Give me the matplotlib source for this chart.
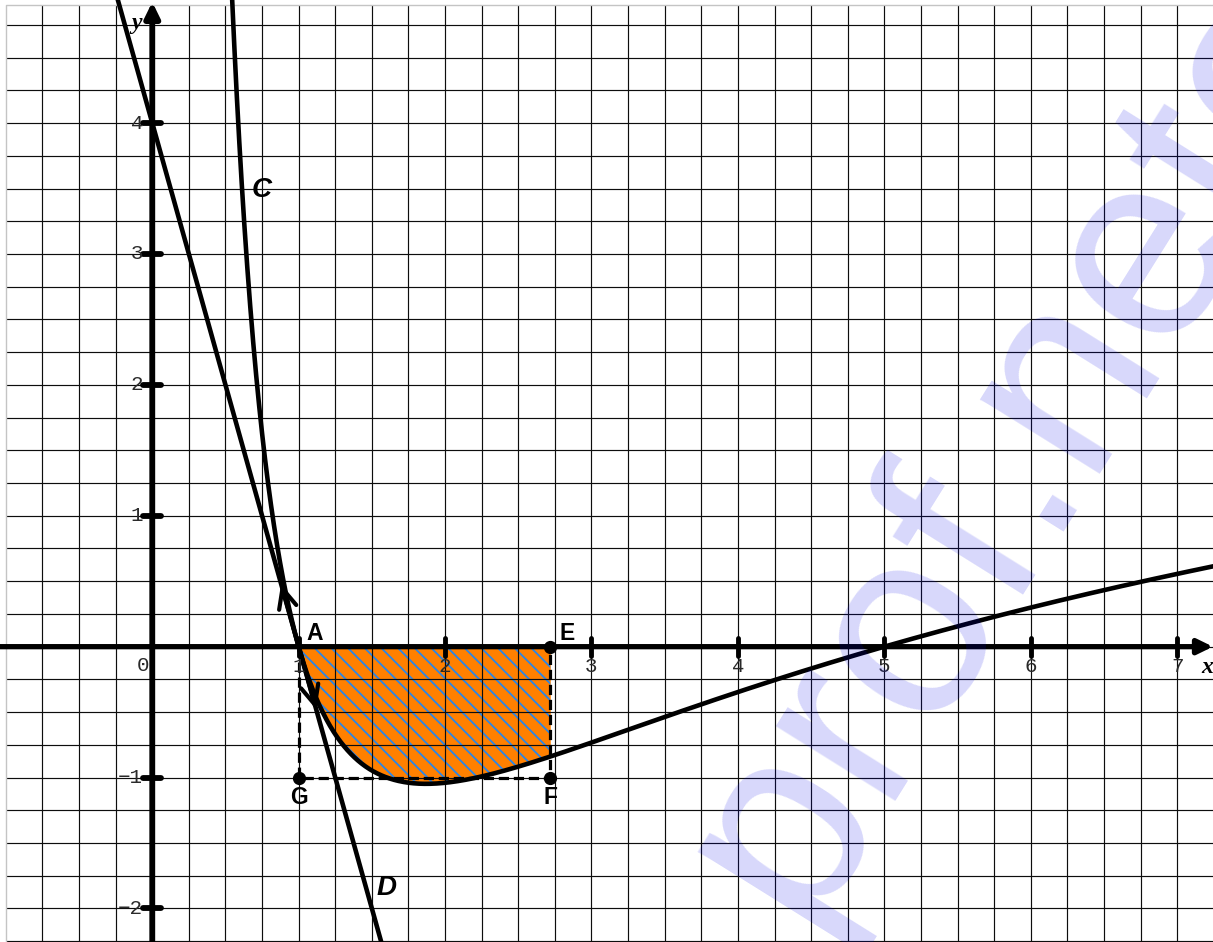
import numpy as np
import matplotlib
matplotlib.use("Agg")
import matplotlib.pyplot as plt
from matplotlib.markers import MarkerStyle

# ---- data -------------------------------------------------------------
# Curve C : f(x) = (x - root) * ln(x) / x
root = 5.0
# Tangent D to C at A : y = slope * x + intercept
tangent_slope = -4.0
tangent_intercept = 4.0

point_names = ["A", "E", "F", "G"]
point_x = [1.0, np.e, np.e, 1.0]
point_y = [0.0, 0.0, -1.0, -1.0]

area_start = 1.0
area_end = np.e

x_ticks = [1, 2, 3, 4, 5, 6, 7]
x_tick_labels = ["1", "2", "3", "4", "5", "6", "7"]
y_ticks = [-2, -1, 1, 2, 3, 4]
y_tick_labels = ["\u22122", "\u22121", "1", "2", "3", "4"]

# ---- window -----------------------------------------------------------
X_MIN, X_MAX = -1.040, 7.245
Y_MIN, Y_MAX = -2.256, 4.940
GRID_X0, GRID_X1 = -1.0, 7.25
GRID_Y0, GRID_Y1 = -2.25, 4.9
GRID_STEP = 0.25


def f(x):
    return (x - root) * np.log(x) / x


def tangent(x):
    return tangent_slope * x + tangent_intercept


fig = plt.figure(figsize=(12.13, 9.42), dpi=100)
ax = fig.add_axes([0, 0, 1, 1])
ax.set_xlim(X_MIN, X_MAX)
ax.set_ylim(Y_MIN, Y_MAX)
ax.axis("off")

# ---- grid (graph paper) -----------------------------------------------
gx = np.arange(GRID_X0 + GRID_STEP, GRID_X1 + 1e-9, GRID_STEP)
gy = np.arange(GRID_Y0, GRID_Y1 - 1e-9, GRID_STEP)
ax.vlines(gx, GRID_Y0, GRID_Y1, colors="#0d0d0d", lw=0.85, zorder=2)
ax.hlines(gy, GRID_X0, GRID_X1, colors="#0d0d0d", lw=0.85, zorder=2)
ax.plot([GRID_X0, GRID_X0, GRID_X1], [GRID_Y0, GRID_Y1, GRID_Y1],
        color="#c4c4c4", lw=1.0, zorder=2)

# ---- shaded area between C and the x-axis ------------------------------
xa = np.linspace(area_start, area_end, 400)
ya = f(xa)
ax.fill_between(xa, ya, 0, color="#ff8000", lw=0, zorder=1)
plt.rcParams["hatch.linewidth"] = 1.3
plt.rcParams["hatch.color"] = "#2a86e8"
ax.fill_between(xa, ya, 0, facecolor="none", edgecolor="#2a86e8",
                hatch="\\\\", lw=0, zorder=1.2)

# ---- dashed frame G-F-E and vertical through A -------------------------
ax.plot([point_x[0], point_x[3], point_x[2], point_x[1]],
        [point_y[0], point_y[3], point_y[2], point_y[1]],
        color="black", lw=2.3, ls=(0, (3.2, 1.5)), zorder=3)

# ---- axes with arrows --------------------------------------------------
ax.annotate("", xy=(X_MAX, 0), xytext=(X_MIN, 0),
            arrowprops=dict(arrowstyle="-|>,head_length=0.45,head_width=0.22",
                            lw=3.8, color="black", mutation_scale=20,
                            shrinkA=0, shrinkB=0),
            zorder=4, annotation_clip=False)
ax.annotate("", xy=(0, Y_MAX - 0.015), xytext=(0, Y_MIN),
            arrowprops=dict(arrowstyle="-|>,head_length=0.45,head_width=0.22",
                            lw=4.2, color="black", mutation_scale=20,
                            shrinkA=0, shrinkB=0),
            zorder=4, annotation_clip=False)

# tick marks
ax.plot(x_ticks, [0] * len(x_ticks), ls="none",
        marker=MarkerStyle("|", capstyle="round"), ms=13, mew=3.5,
        color="black", zorder=5)
ax.plot([0] * len(y_ticks), y_ticks, ls="none",
        marker=MarkerStyle("_", capstyle="round"), ms=13.5, mew=4.2,
        color="black", zorder=5)

tick_font = dict(family="Liberation Mono", fontsize=15, color="#2a2a2a")
for xv, lab in zip(x_ticks, x_tick_labels):
    ax.annotate(lab, (xv, 0), xytext=(0, -14.5), textcoords="offset points",
                ha="center", va="center", zorder=6, **tick_font)
for yv, lab in zip(y_ticks, y_tick_labels):
    ax.annotate(lab, (0, yv), xytext=(-6.5, 0), textcoords="offset points",
                ha="right", va="center", zorder=6, **tick_font)
ax.annotate("0", (0, 0), xytext=(-6.7, -13.2), textcoords="offset points",
            ha="center", va="center", zorder=6, **tick_font)

ax.text(-0.11, 4.76, "y", family="Liberation Serif", style="italic",
        weight="bold", fontsize=17, ha="center", va="center", zorder=6)
ax.text(7.205, -0.16, "x", family="Liberation Serif", style="italic",
        weight="bold", fontsize=17, ha="center", va="center", zorder=6)

# ---- curve C and tangent D --------------------------------------------
xc = np.linspace(0.52, X_MAX + 0.05, 2000)
ax.plot(xc, f(xc), color="black", lw=3.3, zorder=4,
        solid_capstyle="round")
xd = np.linspace(X_MIN, X_MAX, 50)
ax.plot(xd, tangent(xd), color="black", lw=3.3, zorder=4)

# tangent vector arrows at A
half = 0.12
for sgn in (-1, 1):
    xt = point_x[0] + sgn * half
    ax.annotate("", xy=(xt, tangent(xt)), xytext=(point_x[0], point_y[0]),
                arrowprops=dict(arrowstyle="->,head_length=0.7,head_width=0.32",
                                lw=3.0, color="black", mutation_scale=20,
                                shrinkA=0, shrinkB=0),
                zorder=5)

# ---- points and labels -------------------------------------------------
ax.plot(point_x[1:], point_y[1:], "o", ms=8.5, color="black", zorder=6)

label_offsets = {"A": (11.5, 9.4), "E": (12.2, 9.4), "F": (0.5, -14.5),
                 "G": (0, -14.5)}
for name, px, py in zip(point_names, point_x, point_y):
    ax.annotate(name, (px, py), xytext=label_offsets[name],
                textcoords="offset points", ha="center", va="center",
                family="Liberation Sans", weight="bold", fontsize=16.5,
                zorder=6)

ax.text(0.749, 3.49, "C", family="Liberation Sans", weight="bold",
        style="italic", fontsize=20, ha="center", va="center", zorder=6)
ax.text(1.602, -1.844, "D", family="Liberation Sans", weight="bold",
        style="italic", fontsize=20, ha="center", va="center", zorder=6)

# ---- site stamp -------------------------------------------------------
fig.text(800 / 1213, 1 - 926 / 942, "prof.neto", rotation=58,
         rotation_mode="anchor", ha="left", va="baseline", fontsize=192,
         family="Liberation Sans", color="#0000e6", alpha=0.155, zorder=10)

fig.savefig("out.png", dpi=100)
